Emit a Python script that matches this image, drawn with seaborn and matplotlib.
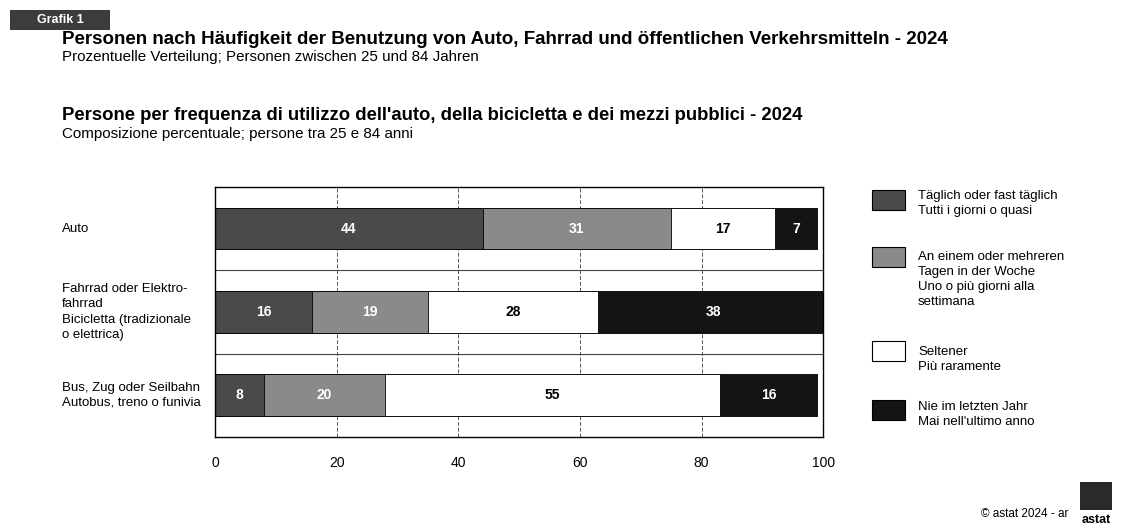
import matplotlib.pyplot as plt
import matplotlib.transforms as mtransforms
from matplotlib.patches import Rectangle
import pandas as pd
import seaborn as sns

# -- Daten -- #
verkehrsmittel = ["Auto", "Fahrrad", "Bus"]
beschriftung = [
    "Auto",
    "Fahrrad oder Elektro-\nfahrrad\nBicicletta (tradizionale\no elettrica)",
    "Bus, Zug oder Seilbahn\nAutobus, treno o funivia",
]
kategorien = [
    "Täglich oder fast täglich\nTutti i giorni o quasi",
    "An einem oder mehreren\nTagen in der Woche\nUno o più giorni alla\nsettimana",
    "Seltener\nPiù raramente",
    "Nie im letzten Jahr\nMai nell'ultimo anno",
]
taeglich = [44, 16, 8]
woechentlich = [31, 19, 20]
seltener = [17, 28, 55]
nie = [7, 38, 16]

farben = ["#4a4a4a", "#8a8a8a", "#ffffff", "#141414"]
textfarben = ["white", "white", "black", "white"]

df = pd.DataFrame(
    {"taeglich": taeglich, "woechentlich": woechentlich, "seltener": seltener, "nie": nie},
    index=verkehrsmittel,
)
kumuliert = df.cumsum(axis=1)

sns.set_theme(style="white")
plt.rcParams["font.family"] = ["Liberation Sans", "DejaVu Sans"]
plt.rcParams["text.color"] = "black"
plt.rcParams["xtick.color"] = "black"

fig = plt.figure(figsize=(11.23, 5.30), dpi=100)
ax = fig.add_axes([0.1915, 0.1755, 0.5415, 0.4717])

# gestapelte Balken: kumulierte Summen von hinten nach vorne
for i, spalte in reversed(list(enumerate(df.columns))):
    sns.barplot(x=kumuliert[spalte].values, y=verkehrsmittel, orient="h",
                color=farben[i], saturation=1, width=0.5, errorbar=None,
                edgecolor="black", linewidth=0.6, ax=ax, zorder=2)

for i, spalte in enumerate(df.columns):
    for j, v in enumerate(df[spalte]):
        ax.text(kumuliert[spalte].iloc[j] - v / 2, j, str(v), ha="center", va="center",
                color=textfarben[i], fontsize=10, fontweight="bold", zorder=3)

ax.set_xlim(0, 100)
ax.set_ylim(2.5, -0.5)
ax.set_xticks([0, 20, 40, 60, 80, 100])
ax.tick_params(axis="x", labelsize=10, length=0, pad=14)
ax.set_yticks([0, 1, 2])
ax.set_yticklabels([])
ax.tick_params(axis="y", length=0)
ax.set_xlabel("")
ax.set_ylabel("")
ax.set_axisbelow(True)
ax.xaxis.grid(True, color="#555555", linewidth=0.7, linestyle=(0, (4, 2)))
for y in [0.5, 1.5]:
    ax.axhline(y, color="#444444", linewidth=0.8, zorder=1)
for s in ax.spines.values():
    s.set_visible(True)
    s.set_color("black")
    s.set_linewidth(1)

# Beschriftung links
trans = mtransforms.blended_transform_factory(fig.transFigure, ax.transData)
for j, txt in enumerate(beschriftung):
    ax.text(62 / 1123, j, txt, transform=trans, ha="left", va="center",
            fontsize=9.5, linespacing=1.35, clip_on=False)

# Legende
W, H = 1123, 530
leg_y = [200, 257, 351, 410]
txt_y = [190, 251, 346, 401]
for i, kat in enumerate(kategorien):
    fig.patches.append(Rectangle((872 / W, 1 - (leg_y[i] + 10) / H), 33 / W, 20 / H,
                                 transform=fig.transFigure, facecolor=farben[i],
                                 edgecolor="black", linewidth=0.8))
    fig.text(918 / W, 1 - txt_y[i] / H, kat, ha="left", va="top",
             fontsize=9.5, linespacing=1.35)

# Titel
fig.patches.append(Rectangle((10 / W, 1 - 30 / H), 100 / W, 20 / H,
                             transform=fig.transFigure, facecolor="#3c3c3c", edgecolor="none"))
fig.text(60 / W, 1 - 20 / H, "Grafik 1", ha="center", va="center",
         color="white", fontsize=9, fontweight="bold")
fig.text(62 / W, 1 - 40 / H,
         "Personen nach Häufigkeit der Benutzung von Auto, Fahrrad und öffentlichen Verkehrsmitteln - 2024",
         ha="left", va="center", fontsize=13.5, fontweight="bold")
fig.text(62 / W, 1 - 57 / H, "Prozentuelle Verteilung; Personen zwischen 25 und 84 Jahren",
         ha="left", va="center", fontsize=10.9)
fig.text(62 / W, 1 - 116 / H,
         "Persone per frequenza di utilizzo dell'auto, della bicicletta e dei mezzi pubblici - 2024",
         ha="left", va="center", fontsize=13.3, fontweight="bold")
fig.text(62 / W, 1 - 134 / H, "Composizione percentuale; persone tra 25 e 84 anni",
         ha="left", va="center", fontsize=10.9)

# Fußzeile
fig.text(1068 / W, 1 - 514 / H, "© astat 2024 - ar", ha="right", va="center", fontsize=8.5)
fig.patches.append(Rectangle((1080 / W, 1 - 510 / H), 32 / W, 28 / H,
                             transform=fig.transFigure, facecolor="#2a2a2a", edgecolor="none"))
fig.text(1096 / W, 1 - 520 / H, "astat", ha="center", va="center",
         fontsize=9, fontweight="bold")

fig.savefig("out.png", dpi=100)
